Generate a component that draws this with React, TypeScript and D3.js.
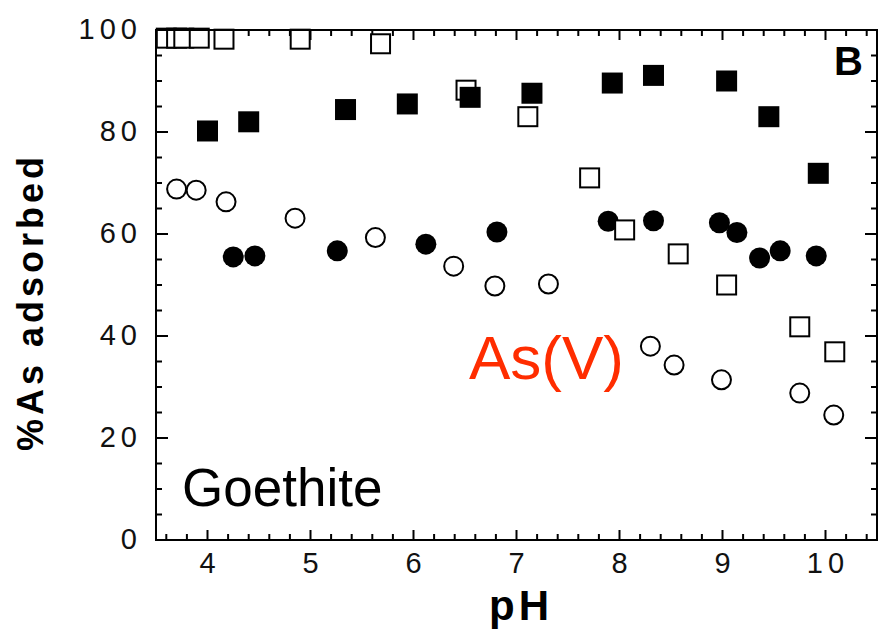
import React from 'react';
import * as d3 from 'd3';

// %As(V) adsorbed on goethite vs pH — four series
const openSquarePH = [3.6, 3.7, 3.77, 3.92, 4.16, 4.9, 5.68, 6.51, 7.11, 7.71, 8.05, 8.57, 9.04, 9.75, 10.09];
const openSquareVal = [98.4, 98.4, 98.4, 98.4, 98.2, 98.2, 97.3, 88.2, 83.0, 71.0, 60.8, 56.1, 50.0, 41.8, 36.9];

const filledSquarePH = [4.0, 4.4, 5.34, 5.94, 6.55, 7.15, 7.93, 8.33, 9.04, 9.45, 9.93];
const filledSquareVal = [80.2, 82.0, 84.4, 85.5, 86.8, 87.6, 89.6, 91.1, 90.0, 83.0, 71.9];

const filledCirclePH = [4.25, 4.46, 5.26, 6.12, 6.81, 7.89, 8.33, 8.97, 9.14, 9.36, 9.56, 9.91];
const filledCircleVal = [55.5, 55.7, 56.7, 58.0, 60.4, 62.5, 62.6, 62.2, 60.3, 55.3, 56.7, 55.7];

const openCirclePH = [3.7, 3.89, 4.18, 4.85, 5.63, 6.39, 6.79, 7.31, 8.3, 8.53, 8.99, 9.75, 10.08];
const openCircleVal = [68.8, 68.6, 66.3, 63.1, 59.3, 53.7, 49.8, 50.2, 38.0, 34.3, 31.4, 28.8, 24.5];

const xTickLabels = [4, 5, 6, 7, 8, 9, 10];
const yTickLabels = [0, 20, 40, 60, 80, 100];

const width = 878;
const height = 631;
const left = 156;
const right = 877;
const top = 30;
const bottom = 540;

const zip = (xs: number[], ys: number[]) => xs.map((x, i) => ({ x, y: ys[i] }));

export default function App() {
  const x = d3.scaleLinear().domain([3.5, 10.5]).range([left, right]);
  const y = d3.scaleLinear().domain([0, 100]).range([bottom, top]);

  const xMinor = x.ticks(35);
  const yMinor = y.ticks(20);
  const axisFont = "'Liberation Sans', Arial, Helvetica, sans-serif";
  const sq = 19;
  const r = 9.5;

  const majorLen = 10;
  const minorLen = 6;
  const isMajorX = (v: number) => Math.abs(v - Math.round(v)) < 1e-6;
  const isMajorY = (v: number) => Math.round(v) % 20 === 0;

  return (
    <div style={{ position: 'absolute', left: 0, top: 0 }}>
      <svg width={width} height={height} style={{ display: 'block', background: '#fff' }}>
        {/* ticks, inward on all four sides */}
        <g stroke="#000" strokeWidth={2}>
          {xMinor.map(v => {
            const l = isMajorX(v) ? majorLen : minorLen;
            return (
              <g key={'xt' + v}>
                <line x1={x(v)} x2={x(v)} y1={bottom} y2={bottom - l} />
                <line x1={x(v)} x2={x(v)} y1={top} y2={top + l} />
              </g>
            );
          })}
          {yMinor.map(v => {
            const l = isMajorY(v) ? majorLen + 2 : minorLen;
            return (
              <g key={'yt' + v}>
                <line x1={left} x2={left + l} y1={y(v)} y2={y(v)} />
                <line x1={right} x2={right - l} y1={y(v)} y2={y(v)} />
              </g>
            );
          })}
        </g>

        {/* data */}
        <g>
          {zip(filledCirclePH, filledCircleVal).map((d, i) => (
            <circle key={'fc' + i} cx={x(d.x)} cy={y(d.y)} r={r + 1} fill="#000" />
          ))}
          {zip(openCirclePH, openCircleVal).map((d, i) => (
            <circle key={'oc' + i} cx={x(d.x)} cy={y(d.y)} r={r} fill="#fff" stroke="#000" strokeWidth={2} />
          ))}
          {zip(openSquarePH, openSquareVal).map((d, i) => (
            <rect key={'os' + i} x={x(d.x) - sq / 2} y={y(d.y) - sq / 2} width={sq} height={sq}
              fill="#fff" stroke="#000" strokeWidth={2} />
          ))}
          {zip(filledSquarePH, filledSquareVal).map((d, i) => (
            <rect key={'fs' + i} x={x(d.x) - (sq + 2) / 2} y={y(d.y) - (sq + 2) / 2} width={sq + 2} height={sq + 2}
              fill="#000" />
          ))}
        </g>

        {/* frame */}
        <rect x={left} y={top} width={right - left} height={bottom - top} fill="none" stroke="#000" strokeWidth={2} />

        {/* tick labels */}
        <g fontFamily={axisFont} fill="#111">
          {xTickLabels.map(v => (
            <text key={'xl' + v} x={x(v) + 2.5} y={573} fontSize={29} letterSpacing={5} textAnchor="middle">
              {v}
            </text>
          ))}
          {yTickLabels.map(v => (
            <text key={'yl' + v} x={142} y={y(v) + 9} fontSize={29} letterSpacing={5} textAnchor="end">
              {v}
            </text>
          ))}
        </g>

        {/* axis titles */}
        <text x={521} y={620} fontFamily={axisFont} fontWeight="bold" fontSize={42} letterSpacing={4}
          textAnchor="middle" fill="#000">pH</text>
        <text transform="translate(43,302) rotate(-90)" fontFamily={axisFont} fontWeight="bold" fontSize={36}
          letterSpacing={4} textAnchor="middle" fill="#000">%As adsorbed</text>

        {/* annotations */}
        <text x={863} y={75} fontFamily={axisFont} fontWeight="bold" fontSize={40} textAnchor="end" fill="#000">B</text>
        <text x={182} y={506} fontFamily={axisFont} fontSize={53} fill="#000">Goethite</text>
        <text x={469} y={379} fontFamily={axisFont} fontSize={62} fill="#ff2d00">As(V)</text>
      </svg>
    </div>
  );
}
